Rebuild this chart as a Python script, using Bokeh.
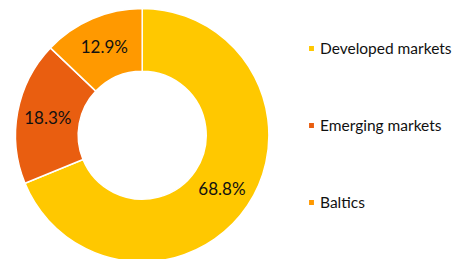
import math
from bokeh.plotting import figure
from bokeh.models import ColumnDataSource, Range1d, Legend, LegendItem
from bokeh.core.properties import value
from bokeh.embed import file_html
from bokeh.resources import INLINE

categories = ["Developed markets", "Emerging markets", "Baltics"]
shares = [68.8, 18.3, 12.9]
colors = ["#FFC800", "#E95E10", "#FF9900"]

W, H = 470, 259
cx, cy = 141.7, 124.3
R_OUT, R_IN, R_LAB = 126.7, 64.0, 96.0

total = sum(shares)
starts, ends, lx, ly, labels = [], [], [], [], []
cum = 0.0
for s in shares:
    a0 = math.pi / 2 - cum / total * 2 * math.pi
    a1 = math.pi / 2 - (cum + s) / total * 2 * math.pi
    mid = (a0 + a1) / 2
    starts.append(a0)
    ends.append(a1)
    lx.append(cx + R_LAB * math.cos(mid))
    ly.append(cy + R_LAB * math.sin(mid))
    labels.append(f"{s:.1f}%")
    cum += s

src = ColumnDataSource(dict(cat=categories, start=starts, end=ends, color=colors,
                            lx=lx, ly=ly, label=labels))

p = figure(width=W, height=H, output_backend="svg", toolbar_location=None,
           x_range=Range1d(0, W), y_range=Range1d(0, H), min_border=0)
p.axis.visible = False
p.grid.visible = False
p.outline_line_color = None
p.background_fill_color = "white"
p.border_fill_color = "white"

r = p.annular_wedge(x=cx, y=cy, inner_radius=R_IN, outer_radius=R_OUT,
                    start_angle="start", end_angle="end", direction="clock",
                    fill_color="color", line_color="white", line_width=1.5,
                    source=src)

p.text(x="lx", y="ly", text="label", source=src, text_align="center",
       text_baseline="middle", text_font=value("Lato"), text_font_size="17px",
       text_color="#111111")

items = [LegendItem(label=c, renderers=[r], index=i) for i, c in enumerate(categories)]
legend = Legend(items=items, location=(307, 48), orientation="vertical",
                glyph_width=8, glyph_height=8, label_standoff=5, spacing=59,
                padding=0, margin=0, border_line_color=None,
                background_fill_alpha=0, label_text_font="Lato",
                label_text_font_size="15.5px", label_text_color="#111111")
p.add_layout(legend, "center")

open("out.html", "w").write(file_html(p, INLINE))
